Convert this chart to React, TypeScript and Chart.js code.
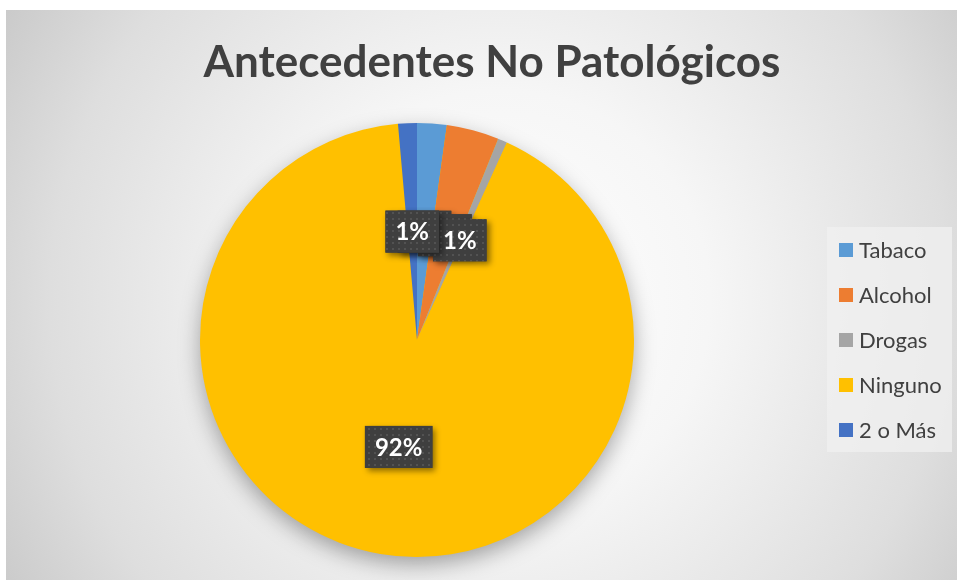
import React, { useEffect, useRef } from "react";
import { Chart, registerables } from "chart.js";

Chart.register(...registerables);

const chartTitle = "Antecedentes No Patológicos";
const categories = ["Tabaco", "Alcohol", "Drogas", "Ninguno", "2 o Más"];
const values = [2.2, 3.9, 0.7, 91.8, 1.4];
const colors = ["#5B9BD5", "#ED7D31", "#A5A5A5", "#FFC000", "#4472C4"];

const W = 957;
const H = 580;
const FONT = "Lato, 'Open Sans', sans-serif";

function makePattern(ctx: CanvasRenderingContext2D) {
  const c = document.createElement("canvas");
  c.width = 6;
  c.height = 6;
  const p = c.getContext("2d")!;
  p.fillStyle = "#3f3f3f";
  p.fillRect(0, 0, 6, 6);
  p.fillStyle = "#525252";
  p.fillRect(2, 2, 2, 2);
  return ctx.createPattern(c, "repeat");
}

const backgroundPlugin = {
  id: "bgPlugin",
  beforeDraw(chart: any) {
    const ctx: CanvasRenderingContext2D = chart.ctx;
    ctx.save();
    ctx.fillStyle = "#ffffff";
    ctx.fillRect(0, 0, W, H);
    const g = ctx.createRadialGradient(500, 300, 0, 500, 300, 600);
    g.addColorStop(0, "#ffffff");
    g.addColorStop(0.35, "#f6f6f6");
    g.addColorStop(0.75, "#dedede");
    g.addColorStop(1, "#c6c6c6");
    ctx.fillStyle = g;
    ctx.fillRect(6, 10, W - 6, H - 10);
    // title
    ctx.fillStyle = "#404040";
    ctx.font = `bold 44px ${FONT}`;
    ctx.textAlign = "center";
    ctx.textBaseline = "alphabetic";
    ctx.fillText(chartTitle, 492, 77);
    ctx.restore();
  },
  beforeDatasetsDraw(chart: any) {
    const meta = chart.getDatasetMeta(0);
    const arc = meta.data[0];
    if (!arc) return;
    const ctx: CanvasRenderingContext2D = chart.ctx;
    ctx.save();
    ctx.shadowColor = "rgba(0,0,0,0.35)";
    ctx.shadowBlur = 22;
    ctx.shadowOffsetY = 8;
    ctx.fillStyle = colors[3];
    ctx.beginPath();
    ctx.arc(arc.x, arc.y, arc.outerRadius - 1, 0, Math.PI * 2);
    ctx.fill();
    ctx.restore();
  },
  afterDatasetsDraw(chart: any) {
    const ctx: CanvasRenderingContext2D = chart.ctx;
    const meta = chart.getDatasetMeta(0);
    const data: number[] = chart.data.datasets[0].data;
    const total = data.reduce((a, b) => a + b, 0);
    const pattern = makePattern(ctx);
    ctx.save();
    ctx.font = `bold 24px ${FONT}`;
    meta.data.forEach((el: any, i: number) => {
      const pct = Math.round((data[i] / total) * 100) + "%";
      const pos = el.getCenterPoint();
      const tw = ctx.measureText(pct).width;
      const bw = tw + 20;
      const bh = 42;
      const x = pos.x - bw / 2;
      const y = pos.y - bh / 2;
      ctx.save();
      ctx.shadowColor = "rgba(0,0,0,0.45)";
      ctx.shadowBlur = 6;
      ctx.shadowOffsetX = 3;
      ctx.shadowOffsetY = 3;
      ctx.fillStyle = "#3f3f3f";
      ctx.fillRect(x, y, bw, bh);
      ctx.restore();
      ctx.fillStyle = pattern || "#3f3f3f";
      ctx.fillRect(x, y, bw, bh);
      ctx.fillStyle = "#ffffff";
      ctx.textAlign = "center";
      ctx.textBaseline = "middle";
      ctx.fillText(pct, pos.x, pos.y + 1);
    });
    ctx.restore();
  },
  afterDraw(chart: any) {
    const ctx: CanvasRenderingContext2D = chart.ctx;
    const labels: string[] = chart.data.labels;
    const bg: string[] = chart.data.datasets[0].backgroundColor;
    ctx.save();
    ctx.fillStyle = "rgba(240,240,240,0.75)";
    ctx.fillRect(827, 227, 125, 225);
    ctx.font = `22px ${FONT}`;
    ctx.textBaseline = "middle";
    ctx.textAlign = "left";
    labels.forEach((lab, i) => {
      const cy = 250 + i * 45;
      ctx.fillStyle = bg[i];
      ctx.fillRect(839, cy - 7, 14, 14);
      ctx.fillStyle = "#404040";
      ctx.fillText(lab, 859, cy + 1);
    });
    ctx.restore();
  },
};

export default function App() {
  const ref = useRef<HTMLCanvasElement | null>(null);
  useEffect(() => {
    document.body.style.margin = "0";
    const canvas = ref.current!;
    const chart = new Chart(canvas, {
      type: "pie",
      data: {
        labels: categories,
        datasets: [
          {
            data: values,
            backgroundColor: colors,
            borderWidth: 0,
          },
        ],
      },
      options: {
        responsive: false,
        animation: false,
        devicePixelRatio: 1,
        layout: { padding: { left: 200, right: W - 634, top: 123, bottom: H - 557 } },
        plugins: {
          legend: { display: false },
          title: { display: false },
          tooltip: { enabled: false },
        },
      },
      plugins: [backgroundPlugin],
    });
    return () => chart.destroy();
  }, []);
  return (
    <div style={{ position: "absolute", left: 0, top: 0, width: W, height: H }}>
      <canvas ref={ref} width={W} height={H} style={{ width: W, height: H, display: "block" }} />
    </div>
  );
}
